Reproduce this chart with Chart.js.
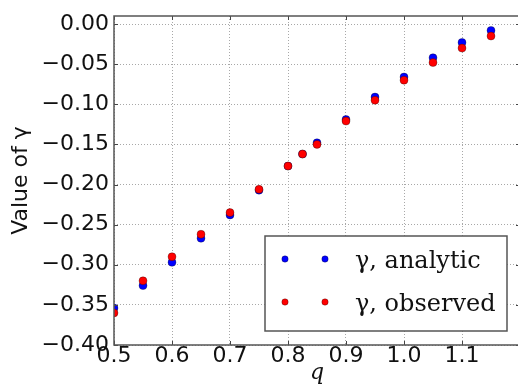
<!DOCTYPE html>
<html>
<head>
<meta charset="utf-8">
<script src="https://cdn.jsdelivr.net/npm/chart.js@4/dist/chart.umd.min.js"></script>
<style>
  html, body { margin: 0; padding: 0; background: #fff; overflow: hidden; }
  #wrap { width: 518px; height: 386px; overflow: hidden; position: relative; }
  canvas { display: block; }
</style>
</head>
<body>
<div id="wrap"><canvas id="c" width="528" height="386" style="width:528px;height:386px"></canvas></div>
<script>
// ---- data ----
const qValues = [0.5, 0.55, 0.6, 0.65, 0.7, 0.75, 0.8, 0.825, 0.85, 0.9, 0.95, 1.0, 1.05, 1.1, 1.15];
const gammaAnalytic = [-0.354, -0.326, -0.297, -0.267, -0.238, -0.207, -0.177, -0.162, -0.148, -0.119, -0.091, -0.066, -0.042, -0.023, -0.008];
const gammaObserved = [-0.360, -0.320, -0.290, -0.262, -0.235, -0.206, -0.177, -0.162, -0.150, -0.121, -0.095, -0.070, -0.048, -0.030, -0.015];
const seriesLabels = ['γ, analytic', 'γ, observed'];
const xAxisTitle = 'q';
const yAxisTitle = 'Value of γ';

const toPoints = (xs, ys) => xs.map((x, i) => ({ x: x, y: ys[i] }));

const framePlugin = {
  id: 'frame',
  afterDatasetsDraw(chart) {
    const { ctx, chartArea: a, scales } = chart;
    ctx.save();
    ctx.strokeStyle = '#444';
    ctx.lineWidth = 1;
    const tl = 4;
    scales.x.ticks.forEach(t => {
      const px = Math.round(scales.x.getPixelForValue(t.value)) + 0.5;
      ctx.beginPath();
      ctx.moveTo(px, a.bottom); ctx.lineTo(px, a.bottom - tl);
      ctx.moveTo(px, a.top); ctx.lineTo(px, a.top + tl);
      ctx.stroke();
    });
    scales.y.ticks.forEach(t => {
      const py = Math.round(scales.y.getPixelForValue(t.value)) + 0.5;
      ctx.beginPath();
      ctx.moveTo(a.left, py); ctx.lineTo(a.left + tl, py);
      ctx.moveTo(a.right, py); ctx.lineTo(a.right - tl, py);
      ctx.stroke();
    });
    ctx.strokeStyle = '#555';
    ctx.lineWidth = 1.5;
    ctx.strokeRect(a.left, a.top, a.right - a.left, a.bottom - a.top);
    ctx.restore();
  }
};

const legendPlugin = {
  id: 'mplLegend',
  afterDraw(chart) {
    const { ctx } = chart;
    const box = { x: 265, y: 236, w: 242, h: 95 };
    ctx.save();
    ctx.fillStyle = '#ffffff';
    ctx.fillRect(box.x, box.y, box.w, box.h);
    ctx.strokeStyle = '#555';
    ctx.lineWidth = 1.5;
    ctx.strokeRect(box.x, box.y, box.w, box.h);
    const rows = [259, 302];
    chart.data.datasets.forEach((ds, i) => {
      const cy = rows[i];
      [285, 325].forEach(cx => {
        ctx.beginPath();
        ctx.arc(cx, cy, 3.2, 0, Math.PI * 2);
        ctx.fillStyle = ds.backgroundColor;
        ctx.fill();
        ctx.lineWidth = 0.5;
        ctx.strokeStyle = 'rgba(0,0,0,0.6)';
        ctx.stroke();
      });
      ctx.fillStyle = '#111';
      ctx.font = '24px "DejaVu Serif"';
      ctx.textBaseline = 'alphabetic';
      ctx.textAlign = 'left';
      ctx.fillText(ds.label, 355, cy + 9);
    });
    ctx.restore();
  }
};

const gridStyle = {
  color: '#a8a8a8',
  lineWidth: 1,
  drawTicks: false
};

new Chart(document.getElementById('c'), {
  type: 'scatter',
  data: {
    datasets: [
      {
        label: seriesLabels[0],
        data: toPoints(qValues, gammaAnalytic),
        backgroundColor: '#0000ff',
        borderColor: 'rgba(0,0,0,0.6)',
        borderWidth: 0.5,
        pointRadius: 4,
        order: 1
      },
      {
        label: seriesLabels[1],
        data: toPoints(qValues, gammaObserved),
        backgroundColor: '#ff0000',
        borderColor: 'rgba(0,0,0,0.6)',
        borderWidth: 0.5,
        pointRadius: 4,
        order: 0
      }
    ]
  },
  options: {
    responsive: false,
    animation: false,
    devicePixelRatio: 1,
    layout: { padding: { top: 15, right: 8, left: 0, bottom: 0 } },
    plugins: { legend: { display: false }, tooltip: { enabled: false } },
    scales: {
      x: {
        type: 'linear',
        min: 0.5,
        max: 1.2,
        border: { display: false, dash: [1, 2] },
        grid: gridStyle,
        afterFit(s) { s.height = 41; },
        ticks: {
          stepSize: 0.1,
          autoSkip: false,
          maxRotation: 0,
          includeBounds: false,
          padding: 0,
          color: '#111',
          font: { family: '"DejaVu Sans"', size: 22, lineHeight: 1.0 },
          callback: v => (v > 1.16 ? '' : Number(v).toFixed(1))
        },
        title: {
          display: true,
          text: xAxisTitle,
          color: '#111',
          padding: 0,
          font: { family: '"DejaVu Serif"', style: 'italic', size: 22, lineHeight: 1.2 }
        }
      },
      y: {
        type: 'linear',
        min: -0.40,
        max: 0.01,
        border: { display: false, dash: [1, 2] },
        grid: gridStyle,
        afterFit(s) { s.width = 114; },
        ticks: {
          stepSize: 0.05,
          autoSkip: false,
          includeBounds: false,
          padding: 5,
          color: '#111',
          font: { family: '"DejaVu Sans"', size: 22, lineHeight: 1.0 },
          callback: v => {
            if (Math.abs(v) < 1e-9) return '0.00';
            const s = Math.abs(v).toFixed(2);
            return v < 0 ? '\u2212' + s : s;
          }
        },
        title: {
          display: true,
          text: yAxisTitle,
          color: '#111',
          padding: { top: 8, bottom: 0 },
          font: { family: '"DejaVu Sans"', size: 22, lineHeight: 1.2 }
        }
      }
    }
  },
  plugins: [framePlugin, legendPlugin]
});
</script>
</body>
</html>
